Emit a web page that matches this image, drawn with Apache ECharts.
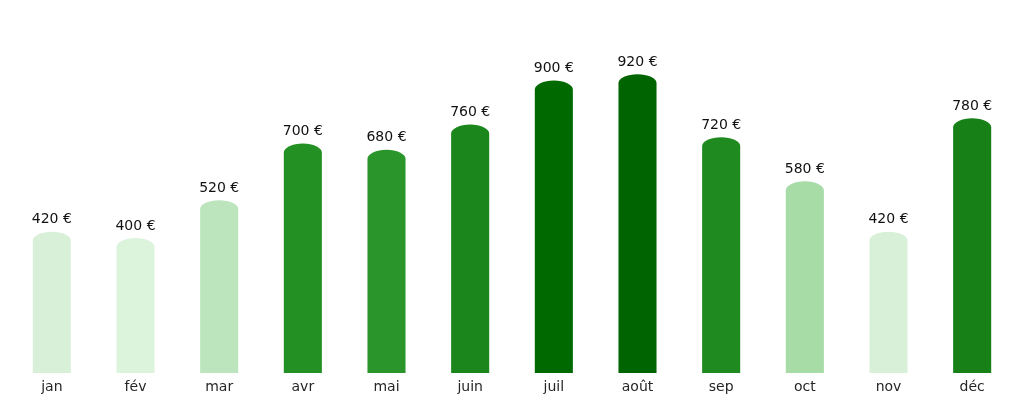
<!DOCTYPE html>
<html>
<head>
<meta charset="utf-8">
<script src="https://cdn.jsdelivr.net/npm/echarts@6/dist/echarts.min.js"></script>
<style>
html,body{margin:0;padding:0;background:#fff;}
#chart{width:1024px;height:404px;}
</style>
</head>
<body>
<div id="chart"></div>
<script>
const months = ['jan','fév','mar','avr','mai','juin','juil','août','sep','oct','nov','déc'];
const amounts = [420, 400, 520, 700, 680, 760, 900, 920, 720, 580, 420, 780];
const barColors = ['#d8f0d8','#dcf3dc','#bde5bd','#239023','#2a952a','#1b861b','#006a00','#006400','#1f8a1f','#a7dca7','#d8f0d8','#178117'];

const chart = echarts.init(document.getElementById('chart'));
chart.setOption({
  animation: false,
  grid: {left: 10, right: 10, top: 58, bottom: 31},
  xAxis: {
    type: 'category',
    data: months,
    axisLine: {show: false},
    axisTick: {show: false},
    axisLabel: {fontFamily: 'DejaVu Sans', fontSize: 14, color: '#262626', margin: 7}
  },
  yAxis: {type: 'value', min: 0, max: 1000, show: false, splitLine: {show: false}},
  series: [{
    type: 'custom',
    data: amounts.map((v, i) => [i, v]),
    renderItem: function (params, api) {
      const idx = api.value(0);
      const val = api.value(1);
      const top = api.coord([idx, val]);
      const base = api.coord([idx, 0]);
      const w = api.size([1, 0])[0] * 0.455;
      const cx = top[0];
      const x0 = cx - w / 2, x1 = cx + w / 2;
      const ry = 9;
      const d = 'M' + x0 + ' ' + base[1] + ' L' + x0 + ' ' + top[1] +
        ' A' + (w / 2) + ' ' + ry + ' 0 0 1 ' + x1 + ' ' + top[1] +
        ' L' + x1 + ' ' + base[1] + ' Z';
      return {
        type: 'group',
        children: [
          {type: 'path', shape: {pathData: d}, style: {fill: barColors[params.dataIndex]}},
          {type: 'text', style: {
            x: cx, y: top[1] - ry - 5,
            text: val + ' €',
            fill: '#111',
            font: '14px "DejaVu Sans"',
            align: 'center', verticalAlign: 'bottom'
          }}
        ]
      };
    }
  }]
});
</script>
</body>
</html>
